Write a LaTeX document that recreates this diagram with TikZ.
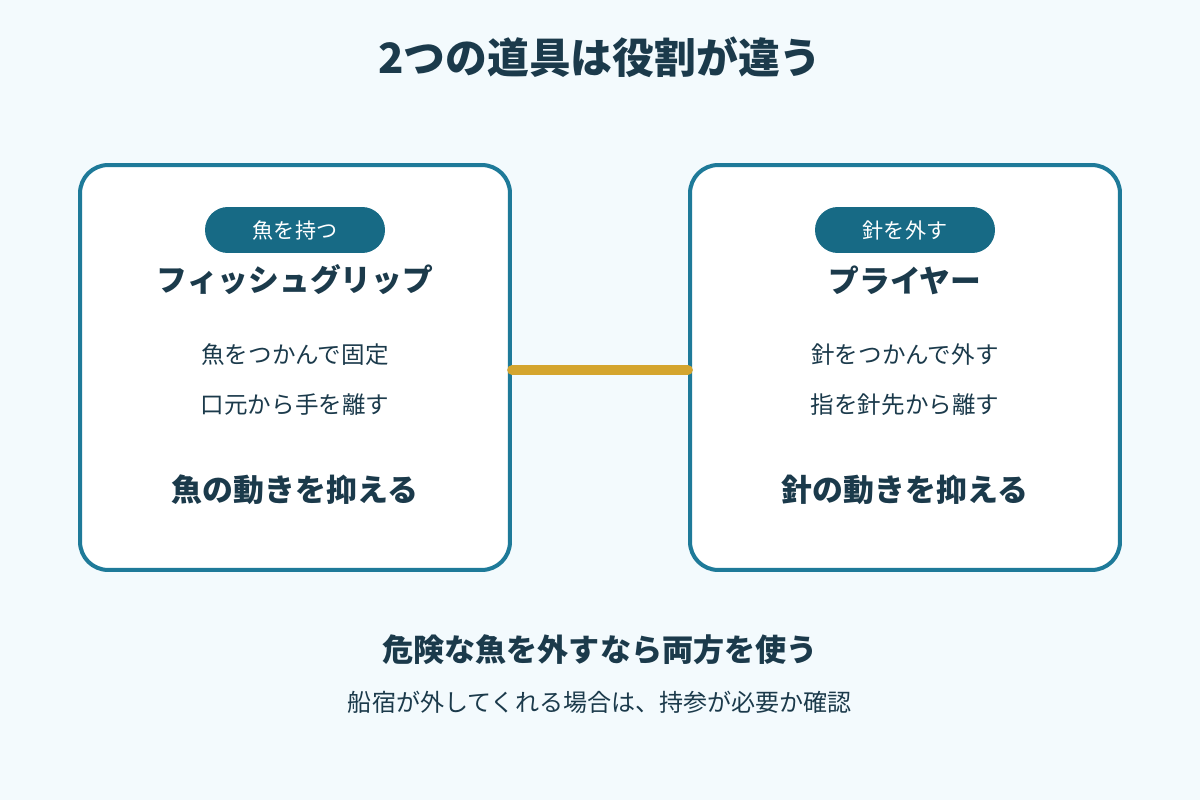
\documentclass[tikz,border=0pt]{standalone}
\usepackage{fontspec}
\setmainfont{Noto Sans CJK JP}
\begin{document}
\definecolor{bg}{HTML}{F3FAFD}
\definecolor{teal}{HTML}{1E7A99}
\definecolor{pill}{HTML}{176A85}
\definecolor{ink}{HTML}{1B3A4B}
\definecolor{gold}{HTML}{D4A52E}
\begin{tikzpicture}[x=0.02cm,y=-0.02cm,
  box/.style={draw=teal,line width=2.3pt,fill=white,rounded corners=16pt,minimum width=8.6cm,minimum height=8.1cm},
  tag/.style={fill=pill,text=white,rounded corners=13pt,minimum width=3.6cm,minimum height=0.92cm,font=\fontsize{12}{14}\selectfont},
  ttl/.style={text=ink,font=\bfseries\fontsize{17.5}{21}\selectfont},
  ln/.style={text=ink,font=\fontsize{13.4}{16}\selectfont},
  bl/.style={text=ink,font=\bfseries\fontsize{17.6}{21}\selectfont}]
\fill[bg] (0,0) rectangle (1200,800);
\node[text=ink,font=\bfseries\fontsize{23.8}{28}\selectfont] (title) at (600,57) {2つの道具は役割が違う};
\node[box] (L) at (295,367.5) {};
\node[box] (R) at (905,367.5) {};
\draw[gold,line width=5.5pt,line cap=round] (L.east|-0,370) coordinate (a) -- (R.west|-0,370) coordinate (b);
\node[tag] (lt) at (295,230) {魚を持つ};
\node[ttl] (ln1) at (295,280) {フィッシュグリップ};
\node[ln] (l1) at (295,355) {魚をつかんで固定};
\node[ln] (l2) at (295,405) {口元から手を離す};
\node[bl] (l3) at (295,490) {魚の動きを抑える};
\node[tag] (rt) at (905,230) {針を外す};
\node[ttl] (rn1) at (905,280) {プライヤー};
\node[ln] (r1) at (905,355) {針をつかんで外す};
\node[ln] (r2) at (905,405) {指を針先から離す};
\node[bl] (r3) at (905,490) {針の動きを抑える};
\node[text=ink,font=\bfseries\fontsize{17.7}{21}\selectfont] (b1) at (600,650) {危険な魚を外すなら両方を使う};
\node[text=ink,font=\fontsize{13.7}{16}\selectfont] (b2) at (600,702) {船宿が外してくれる場合は、持参が必要か確認};
\end{tikzpicture}
\end{document}
